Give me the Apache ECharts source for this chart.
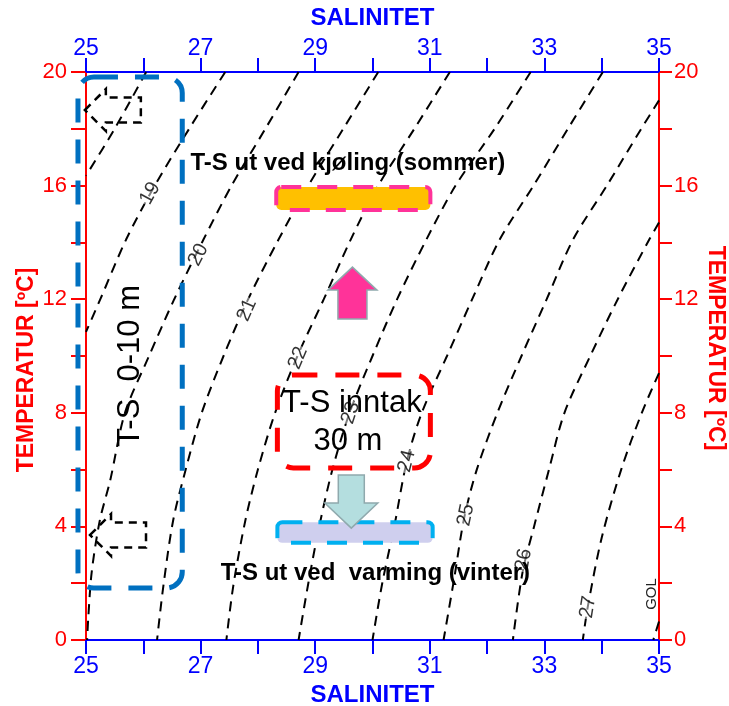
<!DOCTYPE html>
<html><head><meta charset="utf-8">
<script src="https://cdn.jsdelivr.net/npm/echarts@6/dist/echarts.min.js"></script>
<style>html,body{margin:0;padding:0;background:#fff}#c{width:729px;height:706px}</style>
</head><body><div id="c"></div>
<script>
// ---- axis ticks ----
const salinityLabels = [25, 27, 29, 31, 33, 35];
const temperatureLabels = [0, 4, 8, 12, 16, 20];

// ---- isopycnals (sigma-t), points [salinity, temperature] ----
const sigma18 = [[26.05,20],[25.5,18],[25.0,16.35]];
const sigma19 = [[27.43,20],[26.8,18],[26.2,16],[25.7,14.1],[25.25,12],[25.0,10.85]];
const sigma20 = [[28.71,20],[28.13,18],[27.54,16],[27.05,14.1],[26.54,12],[26.1,10],[25.68,8],[25.42,5.6],[25.24,4.2],[25.1,2.4],[25.04,0.8],[25.02,0]];
const sigma21 = [[30.10,20],[29.49,18],[28.88,16],[28.36,14.1],[27.83,12],[27.4,10],[27.02,8],[26.74,6],[26.52,4.2],[26.35,1.9],[26.24,0]];
const sigma22 = [[31.35,20],[30.73,18],[30.1,16],[29.62,14.1],[29.15,12],[28.69,10],[28.3,8],[28.0,6],[27.78,4.2],[27.57,1.9],[27.45,0]];
const sigma23 = [[32.76,20],[32.13,18],[31.45,16],[30.94,14.1],[30.43,12],[30.0,10],[29.6,8],[29.3,6],[29.07,4],[28.88,2],[28.71,0]];
const sigma24 = [[34.02,20],[33.41,18],[32.81,16],[32.22,14.1],[31.74,12],[31.3,10],[30.86,8],[30.6,6.3],[30.38,4],[30.17,2],[30.0,0]];
const sigma25 = [[35,19.0],[34.69,18],[34.09,16],[33.5,14.1],[33.04,12],[32.6,10],[32.18,8],[31.82,6],[31.6,4.3],[31.42,2.1],[31.24,0]];
const sigma26 = [[35,14.7],[34.83,14.1],[34.28,12],[33.8,10],[33.35,8],[33.08,6],[32.82,4],[32.62,2.4],[32.45,0]];
const sigma27 = [[35,9.4],[34.7,8],[34.34,6],[34.0,3.6],[33.76,1.2],[33.67,0]];
const sigma28 = [[35,0.65],[34.9,0]];
const isopycnals = [sigma18,sigma19,sigma20,sigma21,sigma22,sigma23,sigma24,sigma25,sigma26,sigma27,sigma28];

// ---- contour labels ----
const contourLabelText = ['19','20','21','22','23','24','25','26','27'];
const contourLabelPos = [[26.12,15.73],[26.96,13.56],[27.81,11.62],[28.7,9.93],[29.62,8.0],[30.6,6.3],[31.63,4.4],[32.64,2.82],[33.76,1.16]];
const contourLabelAngle = [61, 63, 66, 67, 72, 76, 78, 80, 81];

// ---- annotations: boxes [Smin, Tmax, Smax, Tmin] ----
const surfaceBox = [24.86, 19.82, 26.68, 1.83];
const intakeBox = [28.34, 9.33, 31.01, 6.06];
const summerBar = [28.32, 15.95, 31.01, 15.14];
const winterBar = [28.34, 4.15, 31.05, 3.42];
const upArrowTip = [29.65, 13.13];
const downArrowTip = [29.63, 3.94];
const dashArrowTips = [[24.98, 18.66], [25.07, 3.70]];

const chart = echarts.init(document.getElementById('c'));
const F = 'Arial, "Liberation Sans", sans-serif';
const BLUE = '#0000FF', RED = '#FF0000';

function xAxisDef(pos, margin) {
  return {
    type:'value', position:pos, min:25, max:35, interval:1,
    name:'SALINITET', nameLocation:'middle', nameGap:42,
    nameTextStyle:{color:BLUE, fontSize:24, fontWeight:'bold', fontFamily:F},
    axisLine:{show:true, onZero:false, lineStyle:{color:BLUE, width:2}},
    axisTick:{show:true, inside:false, length:14, interval:0, lineStyle:{color:BLUE, width:2}},
    axisLabel:{interval:0, margin:margin, color:BLUE, fontSize:23, fontFamily:F,
      formatter: v => salinityLabels.includes(v) ? String(v) : ''},
    splitLine:{show:false}
  };
}
function yAxisDef(pos, margin, tickLen) {
  return {
    type:'value', position:pos, min:0, max:20, interval:2,
    axisLine:{show:true, onZero:false, lineStyle:{color:RED, width:2}},
    axisTick:{show:true, inside:false, length:tickLen, interval:0, lineStyle:{color:RED, width:2}},
    axisLabel:{interval:0, margin:margin, color:RED, fontSize:22, fontFamily:F,
      formatter: v => temperatureLabels.includes(v) ? String(v) : ''},
    splitLine:{show:false}
  };
}

const labelStyle = {show:true, position:'inside', color:'#000', fontSize:20, fontFamily:F,
  backgroundColor:'rgba(255,255,255,0.62)', padding:[0,1]};

const series = isopycnals.map(d => ({
  type:'line', data:d, xAxisIndex:0, yAxisIndex:0, showSymbol:false, symbol:'none',
  smooth:0.3, silent:true, z:2,
  lineStyle:{color:'#000', width:2, type:[10,7]}
}));
series.push({
  type:'scatter', xAxisIndex:0, yAxisIndex:0, symbolSize:0, silent:true, z:3,
  data: contourLabelPos.map((p,i) => ({
    value:p, name:contourLabelText[i],
    label:Object.assign({}, labelStyle, {rotate:contourLabelAngle[i], formatter:contourLabelText[i]})
  })),
  label:Object.assign({}, labelStyle, {formatter:p => p.name})
});

chart.setOption({
  animation:false,
  grid:{left:86, right:70, top:72, bottom:66, outerBoundsMode:'none'},
  xAxis:[xAxisDef('bottom', 15), xAxisDef('top', 12)],
  yAxis:[yAxisDef('left', 19, 15), yAxisDef('right', 15, 13)],
  series: series
});

function px(p){ return chart.convertToPixel({seriesIndex:0}, p); }
function rectOf(b){
  const a = px([b[0], b[1]]), c = px([b[2], b[3]]);
  return {x:a[0], y:a[1], width:c[0]-a[0], height:c[1]-a[1]};
}
function txt(text, x, y, font, fill, rot, z) {
  return {type:'text', x:x, y:y, rotation:rot||0, z:z||100,
    style:{text:text, font:font, fill:fill, align:'center', verticalAlign:'middle',
      textAlign:'center', textVerticalAlign:'middle'}};
}
function blockArrowVertical(tip, dir, headW, headH, shaftW, shaftH) {
  const t = px(tip), cx = t[0], ty = t[1];
  const s = dir;
  const hb = ty - s*headH, sb = hb - s*shaftH;
  return [[cx,ty],[cx+headW/2,hb],[cx+shaftW/2,hb],[cx+shaftW/2,sb],[cx-shaftW/2,sb],[cx-shaftW/2,hb],[cx-headW/2,hb]];
}
function blockArrowLeft(tip, headL, headH, bodyL, bodyH) {
  const t = px(tip), x = t[0], y = t[1];
  return [[x,y],[x+headL,y-headH/2],[x+headL,y-bodyH/2],[x+headL+bodyL,y-bodyH/2],
          [x+headL+bodyL,y+bodyH/2],[x+headL,y+bodyH/2],[x+headL,y+headH/2]];
}

const g = [];
g.push({type:'rect', z:100, shape:Object.assign(rectOf(surfaceBox), {r:16}),
  style:{fill:'none', stroke:'#0070C0', lineWidth:5, lineDash:[24,17]}});
g.push({type:'rect', z:100, shape:Object.assign(rectOf(intakeBox), {r:16}),
  style:{fill:'none', stroke:'#FF0000', lineWidth:5, lineDash:[24,18]}});
g.push({type:'rect', z:100, shape:Object.assign(rectOf(summerBar), {r:5}),
  style:{fill:'#FFC000', stroke:'#FF3399', lineWidth:4, lineDash:[20,16]}});
g.push({type:'rect', z:100, shape:Object.assign(rectOf(winterBar), {r:5}),
  style:{fill:'#CFCFEE', stroke:'#00B0F0', lineWidth:4, lineDash:[20,16]}});
g.push({type:'polygon', z:101, shape:{points:blockArrowVertical(upArrowTip, -1, 49, 23, 29, 29)},
  style:{fill:'#FF3399', stroke:'#8FA9AD', lineWidth:1.5}});
g.push({type:'polygon', z:101, shape:{points:blockArrowVertical(downArrowTip, 1, 53, 25, 26, 28)},
  style:{fill:'#B4DEDF', stroke:'#8FA9AD', lineWidth:1.5}});
dashArrowTips.forEach(tp => {
  g.push({type:'polygon', z:100, shape:{points:blockArrowLeft(tp, 21, 42, 35, 25)},
    style:{fill:'none', stroke:'#000', lineWidth:2.5, lineDash:[8,6]}});
});
let p;
p = px([29.57, 16.8]); g.push(txt('T-S ut ved kjøling (sommer)', p[0], p[1], 'bold 24px ' + F, '#000', 0, 90));
p = px([30.05, 2.36]); g.push(txt('T-S ut ved  varming (vinter)', p[0], p[1], 'bold 24px ' + F, '#000', 0, 90));
p = px([29.64, 8.33]); g.push(txt('T-S inntak', p[0], p[1], '31px ' + F, '#000', 0, 102));
p = px([29.57, 7.0]); g.push(txt('30 m', p[0], p[1], '31px ' + F, '#000', 0, 102));
p = px([25.77, 9.65]); g.push(txt('T-S  0-10 m', p[0], p[1], '31px ' + F, '#000', Math.PI/2, 102));
p = px([34.88, 1.62]); g.push(txt('GOL', p[0], p[1], '15px ' + F, '#222', Math.PI/2, 102));
g.push(txt('TEMPERATUR [ºC]', 27, 370, 'bold 23px ' + F, RED, Math.PI/2, 102));
g.push(txt('TEMPERATUR [ºC]', 715, 348, 'bold 23px ' + F, RED, -Math.PI/2, 102));

chart.setOption({graphic:{elements:g}});
</script></body></html>
